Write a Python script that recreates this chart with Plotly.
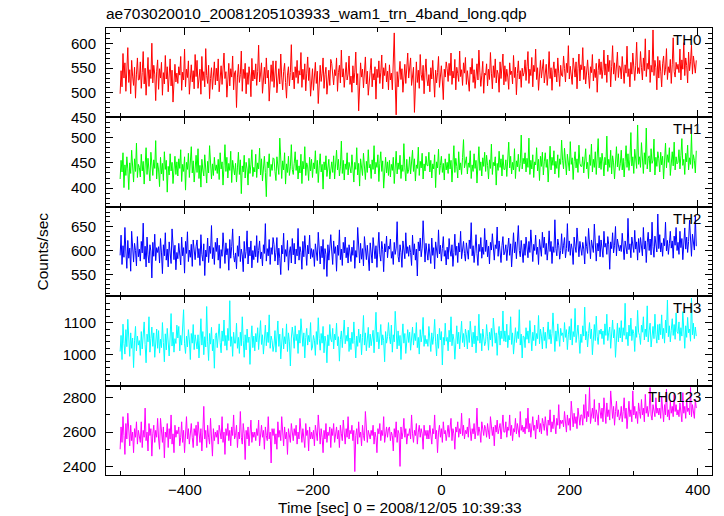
import numpy as np
import plotly.graph_objects as go
from plotly.subplots import make_subplots

TITLE = "ae703020010_20081205103933_wam1_trn_4band_long.qdp"
X_LABEL = "Time [sec] 0 = 2008/12/05 10:39:33"
Y_LABEL = "Counts/sec"
BANDS = ["TH0", "TH1", "TH2", "TH3", "TH0123"]
COLORS = ["#ff0000", "#00ff00", "#0000ff", "#00ffff", "#ff00ff"]

TIME_START = -501.0
TIME_STEP = 1.5

TH0 = [
    498, 545, 512, 580, 530, 561, 503, 540, 592, 521, 547, 498, 566, 534, 515, 552, 489, 538, 571, 526,
    527, 563, 509, 541, 584, 518, 550, 495, 536, 572, 513, 547, 529, 601, 520, 556, 538, 484, 544, 567,
    507, 549, 530, 562, 495, 541, 518, 576, 528, 553, 502, 537, 569, 514, 546, 481, 533, 558, 522, 540,
    519, 553, 536, 574, 505, 542, 526, 589, 512, 548, 531, 565, 497, 539, 557, 522, 545, 508, 578, 533,
    566, 509, 531, 548, 497, 574, 525, 543, 512, 590, 535, 519, 556, 488, 529, 551, 507, 539, 563, 516,
    550, 524, 569, 502, 538, 555, 517, 546, 581, 529, 543, 491, 537, 560, 514, 549, 532, 575, 506, 541,
    545, 470, 532, 558, 521, 537, 585, 503, 548, 529, 560, 498, 541, 517, 553, 534, 492, 570, 524, 546,
    528, 559, 515, 543, 597, 522, 538, 561, 499, 534, 552, 518, 571, 530, 546, 483, 539, 557, 523, 565,
    511, 538, 565, 500, 527, 549, 518, 579, 532, 506, 543, 560, 521, 489, 536, 553, 514, 541, 598, 526,
    542, 508, 553, 531, 566, 519, 545, 536, 582, 511, 548, 527, 559, 504, 540, 573, 525, 551, 493, 538,
    549, 505, 533, 562, 519, 544, 478, 531, 556, 523, 540, 571, 509, 537, 552, 497, 528, 546, 515, 568,
    560, 529, 516, 547, 535, 571, 503, 541, 556, 520, 587, 532, 549, 511, 543, 562, 526, 538, 575, 517,
    534, 501, 555, 520, 542, 583, 516, 539, 463, 527, 561, 532, 548, 510, 536, 573, 518, 544, 495, 531,
    545, 570, 512, 539, 526, 553, 487, 548, 531, 565, 519, 542, 577, 508, 551, 535, 560, 522, 544, 506,
    557, 526, 540, 506, 567, 622, 522, 455, 543, 512, 538, 564, 527, 549, 501, 533, 558, 519, 545, 581,
    530, 548, 571, 515, 539, 552, 460, 534, 563, 521, 546, 509, 578, 537, 525, 556, 498, 542, 569, 528,
    514, 537, 502, 551, 528, 566, 535, 491, 546, 520, 541, 574, 511, 539, 555, 524, 486, 548, 532, 563,
    549, 523, 560, 535, 581, 517, 544, 530, 568, 506, 552, 539, 523, 585, 533, 547, 515, 561, 540, 572,
    517, 545, 529, 503, 552, 538, 570, 521, 547, 509, 534, 559, 526, 587, 542, 513, 536, 564, 499, 540,
    536, 559, 514, 548, 527, 582, 540, 508, 555, 531, 569, 520, 546, 538, 501, 563, 529, 552, 579, 516,
    555, 523, 548, 532, 507, 561, 537, 544, 518, 576, 531, 552, 496, 539, 565, 528, 545, 511, 550, 534,
    541, 567, 525, 553, 584, 519, 548, 535, 572, 512, 556, 543, 589, 527, 551, 505, 538, 566, 530, 558,
    568, 520, 543, 558, 515, 538, 584, 529, 551, 505, 546, 563, 532, 549, 522, 571, 540, 513, 556, 535,
    533, 575, 549, 522, 560, 541, 596, 528, 554, 539, 517, 571, 545, 532, 563, 508, 550, 579, 524, 557,
    547, 592, 527, 554, 518, 542, 567, 536, 509, 553, 541, 578, 524, 548, 531, 560, 501, 545, 569, 537,
    563, 529, 548, 587, 536, 559, 521, 577, 543, 566, 512, 553, 596, 538, 561, 525, 549, 583, 531, 555,
    552, 528, 574, 543, 519, 557, 540, 595, 533, 549, 512, 562, 538, 581, 546, 525, 555, 603, 539, 551,
    539, 584, 552, 526, 571, 545, 610, 533, 560, 548, 587, 521, 556, 542, 628, 535, 566, 551, 506, 574,
    530, 566, 544, 512, 559, 575, 536, 548, 590, 527, 553, 541, 568, 519, 557, 612, 543, 532, 562, 548,
    558, 541, 589, 526, 567, 548, 602, 535, 571, 556, 520, 583, 545, 563, 597, 538, 575, 552, 540, 566,
]

TH1 = [
    418, 455, 432, 470, 401, 446, 425, 462, 438, 397, 450, 429, 475, 441, 412, 458, 433, 489, 421, 447,
    441, 422, 467, 434, 453, 408, 446, 480, 427, 459, 436, 414, 471, 443, 425, 456, 439, 494, 418, 450,
    436, 403, 461, 428, 449, 415, 472, 437, 455, 392, 443, 426, 468, 434, 451, 409, 440, 463, 427, 452,
    424, 458, 439, 476, 413, 447, 433, 462, 396, 451, 437, 469, 421, 445, 482, 430, 454, 412, 442, 465,
    431, 478, 419, 445, 402, 457, 436, 424, 466, 442, 410, 453, 430, 484, 439, 418, 448, 425, 461, 435,
    446, 429, 457, 417, 470, 438, 452, 406, 444, 486, 433, 461, 420, 449, 435, 473, 411, 455, 440, 426,
    449, 412, 440, 471, 427, 456, 389, 444, 432, 465, 420, 451, 438, 406, 459, 429, 446, 476, 423, 441,
    432, 467, 421, 450, 438, 479, 426, 458, 414, 445, 463, 431, 383, 452, 440, 468, 423, 447, 435, 460,
    458, 433, 415, 462, 440, 427, 499, 445, 419, 454, 436, 470, 408, 448, 431, 463, 425, 442, 486, 437,
    427, 449, 472, 435, 456, 418, 444, 430, 467, 409, 453, 438, 482, 425, 450, 442, 415, 461, 434, 457,
    421, 450, 438, 474, 429, 455, 411, 444, 468, 432, 447, 398, 452, 436, 464, 423, 441, 457, 418, 445,
    452, 431, 464, 418, 447, 475, 436, 457, 424, 442, 493, 429, 455, 416, 448, 437, 470, 426, 451, 439,
    430, 466, 443, 412, 451, 437, 480, 426, 449, 404, 458, 439, 425, 469, 444, 417, 453, 431, 476, 440,
    447, 419, 456, 437, 484, 428, 451, 441, 466, 413, 449, 472, 433, 454, 400, 445, 461, 430, 452, 425,
    455, 422, 447, 435, 461, 409, 442, 473, 428, 450, 437, 465, 419, 446, 433, 488, 440, 414, 457, 429,
    436, 462, 428, 450, 475, 433, 458, 414, 446, 439, 481, 425, 453, 440, 469, 418, 448, 434, 463, 445,
    444, 471, 432, 455, 420, 448, 438, 466, 401, 452, 440, 477, 427, 445, 463, 431, 449, 416, 458, 436,
    451, 429, 468, 438, 455, 412, 447, 484, 431, 459, 443, 420, 472, 436, 450, 427, 461, 496, 440, 454,
    462, 428, 450, 441, 474, 419, 446, 433, 468, 439, 455, 410, 447, 482, 435, 452, 424, 460, 443, 471,
    433, 465, 445, 418, 456, 439, 487, 427, 451, 444, 462, 406, 449, 435, 473, 441, 458, 424, 466, 437,
    437, 456, 423, 448, 491, 440, 463, 428, 451, 436, 478, 419, 454, 442, 467, 433, 449, 505, 438, 459,
    448, 470, 432, 459, 441, 499, 427, 455, 438, 466, 421, 452, 446, 480, 434, 457, 415, 463, 443, 471,
    426, 452, 470, 441, 457, 412, 449, 483, 436, 461, 445, 474, 428, 453, 439, 466, 421, 458, 447, 495,
    455, 438, 479, 445, 426, 467, 451, 434, 492, 447, 460, 417, 453, 472, 440, 458, 431, 485, 449, 443,
    443, 462, 430, 455, 478, 438, 451, 419, 466, 445, 487, 432, 457, 441, 472, 427, 453, 498, 440, 461,
    437, 469, 452, 424, 461, 446, 503, 433, 457, 441, 475, 428, 464, 450, 418, 456, 482, 442, 468, 435,
    448, 475, 436, 459, 422, 453, 484, 441, 468, 435, 456, 510, 444, 462, 429, 477, 450, 439, 525, 447,
    462, 441, 490, 453, 429, 470, 447, 519, 438, 459, 464, 432, 478, 449, 455, 497, 426, 461, 443, 472,
    458, 432, 471, 446, 463, 418, 454, 489, 440, 466, 451, 480, 425, 459, 472, 444, 491, 436, 462, 448,
    451, 476, 438, 464, 498, 445, 457, 427, 469, 452, 485, 436, 460, 447, 507, 439, 466, 455, 430, 474,
]

TH2 = [
    590, 632, 571, 610, 586, 648, 597, 563, 621, 584, 605, 557, 640, 593, 576, 615, 600, 568, 629, 587,
    603, 578, 619, 595, 657, 582, 609, 566, 628, 591, 574, 612, 599, 543, 617, 588, 634, 579, 606, 596,
    608, 574, 625, 595, 552, 612, 589, 637, 580, 603, 566, 618, 594, 573, 645, 599, 581, 611, 560, 596,
    583, 615, 597, 570, 628, 589, 606, 553, 619, 594, 639, 577, 601, 586, 613, 567, 622, 598, 581, 609,
    622, 585, 604, 569, 633, 592, 578, 614, 548, 601, 587, 626, 575, 609, 594, 652, 583, 606, 571, 617,
    598, 626, 580, 611, 563, 602, 588, 637, 595, 573, 616, 591, 604, 559, 623, 584, 608, 645, 590, 576,
    595, 562, 610, 588, 630, 577, 603, 591, 556, 619, 584, 598, 641, 572, 607, 589, 620, 564, 600, 581,
    610, 587, 631, 575, 600, 620, 583, 597, 568, 612, 594, 656, 578, 604, 589, 623, 571, 606, 592, 627,
    613, 578, 596, 627, 570, 605, 584, 550, 611, 593, 636, 576, 602, 588, 621, 559, 597, 608, 574, 625,
    591, 615, 572, 603, 589, 646, 580, 608, 596, 561, 619, 587, 631, 598, 569, 611, 593, 632, 583, 604,
    586, 602, 567, 614, 591, 579, 638, 598, 572, 609, 585, 623, 561, 604, 592, 546, 612, 580, 599, 633,
    599, 571, 620, 594, 608, 557, 611, 590, 643, 581, 603, 569, 617, 595, 628, 585, 606, 574, 612, 593,
    577, 607, 590, 621, 563, 600, 586, 648, 593, 574, 615, 582, 604, 568, 629, 595, 581, 611, 587, 558,
    616, 590, 574, 627, 600, 583, 610, 565, 605, 638, 592, 578, 619, 602, 556, 614, 597, 630, 585, 609,
    603, 624, 584, 598, 571, 617, 592, 605, 660, 588, 576, 612, 596, 565, 620, 601, 583, 637, 594, 608,
    588, 611, 596, 569, 632, 591, 614, 580, 603, 547, 618, 599, 626, 587, 605, 662, 592, 576, 615, 600,
    580, 614, 597, 573, 626, 590, 606, 562, 618, 599, 585, 643, 593, 611, 578, 604, 629, 588, 600, 570,
    607, 582, 625, 601, 588, 612, 567, 596, 634, 590, 609, 575, 616, 597, 640, 583, 602, 619, 594, 578,
    616, 595, 582, 622, 604, 658, 589, 610, 575, 601, 633, 594, 569, 613, 598, 627, 584, 607, 592, 646,
    598, 622, 587, 609, 572, 617, 601, 635, 593, 580, 612, 604, 649, 588, 620, 596, 575, 610, 629, 591,
    597, 612, 579, 605, 626, 590, 614, 566, 603, 637, 595, 618, 583, 609, 652, 600, 587, 621, 594, 575,
    614, 590, 628, 602, 585, 619, 596, 643, 609, 577, 613, 600, 632, 592, 607, 571, 623, 605, 588, 638,
    606, 628, 592, 615, 580, 603, 641, 598, 619, 573, 608, 596, 664, 604, 589, 624, 611, 582, 600, 635,
    593, 611, 627, 585, 604, 656, 598, 620, 590, 614, 603, 571, 628, 609, 596, 647, 612, 587, 619, 604,
    590, 617, 603, 572, 629, 608, 594, 646, 601, 583, 622, 610, 596, 655, 605, 578, 615, 599, 631, 587,
    622, 600, 586, 640, 607, 615, 592, 629, 612, 561, 618, 604, 637, 595, 611, 650, 589, 624, 606, 599,
    611, 598, 636, 604, 581, 620, 607, 593, 667, 602, 614, 585, 628, 609, 596, 642, 603, 618, 580, 625,
    596, 627, 612, 589, 648, 603, 620, 575, 616, 638, 600, 624, 591, 659, 608, 586, 630, 613, 597, 676,
    604, 633, 597, 616, 588, 625, 610, 659, 599, 621, 592, 614, 640, 605, 620, 584, 630, 611, 648, 600,
    617, 592, 640, 606, 625, 581, 613, 647, 603, 628, 596, 619, 663, 607, 588, 634, 615, 601, 672, 609,
]

TH3 = [
    1010, 1060, 985, 1095, 1035, 1002, 1078, 1025, 1110, 1040, 995, 1068, 1020, 1052, 960, 1045, 1088, 1012, 1058, 1030,
    1044, 998, 1072, 1018, 1056, 1102, 1032, 975, 1064, 1040, 1118, 1008, 1050, 1086, 1026, 1068, 992, 1046, 1080, 1020,
    1075, 1005, 1048, 1022, 1100, 1038, 978, 1065, 1015, 1082, 1042, 996, 1055, 1128, 1027, 1070, 1008, 1050, 1035, 1092,
    1052, 1088, 1012, 1060, 1030, 1070, 1140, 1034, 1004, 1058, 1024, 1078, 1046, 985, 1066, 1036, 1094, 1016, 1062, 1040,
    1018, 1062, 990, 1045, 1112, 1030, 1072, 1000, 1056, 1024, 1150, 1040, 982, 1066, 1033, 1085, 1012, 1048, 958, 1060,
    1068, 1022, 1054, 1096, 1038, 1006, 1074, 1042, 1108, 1028, 1060, 1014, 1082, 1044, 1168, 1026, 1056, 995, 1070, 1036,
    1036, 1098, 1020, 1054, 1004, 1070, 1028, 1118, 1044, 992, 1062, 1015, 1080, 1038, 1055, 970, 1046, 1090, 1022, 1058,
    1012, 1066, 1040, 1084, 1016, 1054, 1106, 1032, 1062, 1002, 1048, 1092, 1028, 1070, 1038, 1124, 1020, 1058, 1044, 1010,
    1030, 1075, 1008, 1050, 1105, 1026, 1064, 987, 1042, 1082, 1018, 1056, 1034, 1096, 1010, 1068, 1040, 965, 1052, 1086,
    1058, 1020, 1090, 1044, 1064, 1004, 1076, 1036, 1112, 1050, 1026, 1068, 990, 1054, 1082, 1030, 1060, 1040, 1100, 1014,
    1024, 1060, 1045, 998, 1072, 1032, 1115, 1050, 1014, 1066, 1036, 1088, 1006, 1058, 1040, 975, 1062, 1028, 1094, 1048,
    1040, 1082, 1018, 1064, 1046, 1098, 1028, 1056, 980, 1048, 1074, 1022, 1066, 1108, 1034, 1060, 1042, 1086, 1010, 1052,
    1016, 1070, 1035, 1102, 1044, 990, 1058, 1026, 1080, 1038, 1064, 1000, 1054, 1122, 1030, 1068, 1012, 1046, 1085, 1022,
    1064, 1028, 1048, 1076, 1006, 1058, 1132, 1040, 1070, 1018, 1052, 1094, 1030, 1062, 1044, 978, 1072, 1036, 1056, 1100,
    1056, 1034, 1092, 1008, 1062, 1040, 1135, 1048, 1018, 1074, 1028, 1060, 985, 1052, 1096, 1036, 1066, 1004, 1050, 1078,
    1038, 1070, 1014, 1058, 1086, 1030, 1066, 1044, 1100, 1022, 1054, 1002, 1078, 1040, 1062, 1116, 1026, 1060, 1034, 1048,
    1026, 1088, 1044, 1010, 1068, 1032, 1058, 1110, 1040, 996, 1064, 1020, 1082, 1046, 1072, 968, 1054, 1030, 1098, 1042,
    1054, 1012, 1076, 1040, 1118, 1028, 1064, 1046, 986, 1058, 1090, 1034, 1070, 1018, 1050, 1104, 1038, 1066, 1024, 1080,
    1062, 1018, 1076, 1038, 1104, 1050, 1024, 1070, 1034, 1090, 1006, 1058, 1044, 1126, 1036, 1066, 1012, 1080, 1048, 1028,
    1040, 1094, 1056, 1014, 1070, 1046, 1082, 1026, 1114, 1052, 1036, 1068, 998, 1060, 1088, 1030, 1074, 1050, 1136, 1042,
    1074, 1040, 1095, 1022, 1060, 1046, 1118, 1032, 1068, 1002, 1056, 1084, 1038, 1072, 1050, 1140, 1030, 1064, 990, 1058,
    1056, 1022, 1084, 1048, 1074, 1036, 1106, 1060, 1012, 1070, 1044, 1092, 1028, 1066, 1050, 1122, 1034, 1080, 1058, 1018,
    1086, 1044, 1070, 1020, 1062, 1102, 1048, 1078, 1034, 1066, 1130, 1052, 1010, 1074, 1042, 1096, 1056, 1026, 1082, 1060,
    1068, 1040, 1100, 1054, 1078, 1016, 1062, 1088, 1046, 1112, 1030, 1072, 1056, 1144, 1038, 1070, 1092, 1048, 1004, 1064,
    1038, 1090, 1058, 1148, 1046, 1072, 1024, 1066, 1100, 1050, 1080, 1000, 1062, 1094, 1044, 1120, 1056, 1032, 1076, 1064,
    1080, 1050, 1074, 1032, 1096, 1060, 1126, 1044, 1070, 1086, 1020, 1064, 1108, 1052, 1078, 992, 1066, 1098, 1040, 1084,
    1052, 1106, 1040, 1084, 1060, 1160, 1048, 1070, 1028, 1092, 1058, 1114, 1044, 1078, 1066, 1010, 1088, 1054, 1138, 1070,
    1060, 1032, 1092, 1070, 1118, 1046, 1080, 1056, 1152, 1040, 1074, 1098, 1024, 1066, 1088, 1050, 1126, 1062, 1036, 1094,
    1046, 1096, 1062, 1124, 1050, 1082, 1036, 1108, 1068, 1170, 1056, 1090, 1040, 1076, 1112, 1060, 1094, 1048, 1130, 1072,
    1066, 1102, 1044, 1084, 1058, 1134, 1072, 1020, 1090, 1054, 1116, 1068, 1080, 1042, 1176, 1062, 1098, 1050, 1086, 1058,
]

TH0123 = [
    2500, 2630, 2540, 2690, 2580, 2470, 2650, 2560, 2710, 2590, 2520, 2640, 2550, 2600, 2480, 2620, 2570, 2660, 2530, 2610,
    2580, 2540, 2660, 2510, 2610, 2570, 2740, 2550, 2600, 2490, 2650, 2580, 2620, 2460, 2590, 2640, 2540, 2610, 2570, 2680,
    2560, 2500, 2680, 2590, 2540, 2630, 2450, 2600, 2570, 2650, 2510, 2620, 2560, 2700, 2530, 2590, 2480, 2640, 2570, 2610,
    2590, 2630, 2520, 2570, 2660, 2540, 2610, 2480, 2600, 2690, 2560, 2620, 2530, 2590, 2650, 2570, 2510, 2620, 2580, 2640,
    2520, 2660, 2580, 2540, 2620, 2490, 2600, 2750, 2560, 2610, 2510, 2640, 2570, 2530, 2680, 2590, 2460, 2620, 2550, 2600,
    2570, 2610, 2530, 2640, 2590, 2560, 2690, 2540, 2600, 2470, 2620, 2580, 2650, 2550, 2610, 2520, 2630, 2580, 2700, 2560,
    2580, 2640, 2510, 2600, 2560, 2720, 2570, 2530, 2650, 2590, 2440, 2610, 2560, 2630, 2520, 2590, 2670, 2540, 2600, 2570,
    2600, 2550, 2620, 2580, 2670, 2520, 2600, 2640, 2570, 2610, 2500, 2630, 2580, 2550, 2690, 2560, 2600, 2420, 2620, 2580,
    2620, 2530, 2590, 2500, 2660, 2570, 2610, 2550, 2690, 2580, 2520, 2630, 2560, 2600, 2470, 2620, 2580, 2540, 2650, 2590,
    2550, 2620, 2580, 2640, 2530, 2600, 2560, 2680, 2590, 2540, 2620, 2570, 2510, 2650, 2580, 2610, 2490, 2630, 2560, 2600,
    2560, 2610, 2520, 2640, 2580, 2550, 2700, 2590, 2530, 2620, 2570, 2480, 2610, 2560, 2650, 2540, 2600, 2580, 2630, 2510,
    2620, 2580, 2650, 2540, 2600, 2630, 2560, 2610, 2510, 2640, 2590, 2550, 2670, 2580, 2530, 2620, 2570, 2690, 2560, 2610,
    2590, 2640, 2550, 2610, 2370, 2580, 2620, 2530, 2660, 2570, 2600, 2520, 2640, 2580, 2550, 2720, 2590, 2540, 2610, 2570,
    2560, 2610, 2580, 2640, 2530, 2600, 2570, 2480, 2620, 2590, 2650, 2550, 2610, 2580, 2690, 2540, 2600, 2630, 2570, 2620,
    2630, 2550, 2600, 2580, 2490, 2620, 2570, 2660, 2540, 2610, 2590, 2400, 2630, 2560, 2600, 2680, 2570, 2620, 2530, 2590,
    2580, 2620, 2560, 2700, 2590, 2540, 2610, 2580, 2650, 2530, 2600, 2640, 2570, 2620, 2590, 2500, 2640, 2580, 2610, 2560,
    2610, 2560, 2640, 2580, 2530, 2620, 2590, 2700, 2560, 2610, 2480, 2600, 2640, 2570, 2620, 2540, 2660, 2590, 2610, 2550,
    2590, 2640, 2570, 2610, 2680, 2550, 2620, 2590, 2500, 2630, 2600, 2660, 2570, 2620, 2590, 2710, 2580, 2640, 2560, 2610,
    2590, 2630, 2570, 2680, 2600, 2550, 2620, 2590, 2650, 2560, 2610, 2740, 2580, 2630, 2600, 2540, 2660, 2610, 2580, 2640,
    2620, 2570, 2650, 2600, 2560, 2690, 2610, 2580, 2630, 2520, 2640, 2600, 2670, 2590, 2620, 2650, 2560, 2630, 2700, 2600,
    2600, 2660, 2570, 2630, 2610, 2700, 2580, 2640, 2550, 2620, 2600, 2680, 2590, 2650, 2620, 2570, 2720, 2610, 2640, 2600,
    2630, 2590, 2680, 2620, 2740, 2600, 2650, 2570, 2630, 2690, 2610, 2640, 2560, 2670, 2620, 2700, 2600, 2650, 2590, 2680,
    2650, 2610, 2690, 2630, 2580, 2670, 2640, 2730, 2600, 2660, 2620, 2700, 2650, 2590, 2680, 2640, 2760, 2620, 2670, 2650,
    2670, 2630, 2720, 2650, 2600, 2700, 2640, 2680, 2610, 2780, 2660, 2630, 2710, 2650, 2690, 2620, 2740, 2670, 2640, 2700,
    2700, 2640, 2760, 2680, 2820, 2660, 2720, 2690, 2860, 2650, 2710, 2740, 2680, 2790, 2660, 2730, 2700, 2640, 2770, 2710,
    2680, 2740, 2660, 2800, 2700, 2650, 2770, 2690, 2730, 2670, 2840, 2710, 2680, 2750, 2640, 2720, 2780, 2690, 2730, 2670,
    2690, 2750, 2660, 2720, 2800, 2680, 2740, 2620, 2710, 2780, 2690, 2730, 2660, 2840, 2700, 2750, 2680, 2720, 2650, 2770,
    2720, 2680, 2790, 2700, 2740, 2660, 2820, 2710, 2750, 2690, 2730, 2860, 2700, 2670, 2760, 2720, 2690, 2800, 2710, 2740,
    2700, 2740, 2680, 2810, 2720, 2660, 2760, 2700, 2850, 2690, 2730, 2670, 2780, 2710, 2750, 2690, 2820, 2720, 2760, 2700,
    2730, 2690, 2770, 2720, 2660, 2830, 2710, 2750, 2680, 2790, 2720, 2740, 2700, 2860, 2690, 2760, 2720, 2680, 2790, 2740,
]

SERIES = [TH0, TH1, TH2, TH3, TH0123]
Y_RANGES = [[449.8, 632], [363, 540], [505, 691], [904, 1182], [2350, 2871]]
Y_DTICK = [50, 50, 50, 100, 200]
Y_MINOR = [10, 10, 10, 20, 100]
X_RANGE = [-523, 422]

FONT = "Liberation Sans, Arial, Helvetica, sans-serif"

fig = make_subplots(rows=5, cols=1, shared_xaxes=True, vertical_spacing=0)

for k, (name, vals, col) in enumerate(zip(BANDS, SERIES, COLORS)):
    t = TIME_START + TIME_STEP * np.arange(len(vals))
    fig.add_trace(
        go.Scatter(x=t, y=vals, mode="lines", line=dict(color=col, width=1),
                   name=name, showlegend=False),
        row=k + 1, col=1,
    )
    fig.update_yaxes(
        range=Y_RANGES[k], dtick=Y_DTICK[k], tick0=0,
        ticks="inside", ticklen=7, tickcolor="black", tickwidth=1,
        minor=dict(dtick=Y_MINOR[k], ticks="inside", ticklen=4, tickcolor="black", showgrid=False),
        showline=True, linecolor="black", linewidth=1, mirror="allticks",
        showgrid=False, zeroline=False,
        tickfont=dict(family=FONT, size=15, color="black"),
        ticklabelstandoff=6,
        row=k + 1, col=1,
    )
    fig.update_xaxes(
        range=X_RANGE, dtick=200, tick0=0,
        ticks="inside", ticklen=7, tickcolor="black", tickwidth=1,
        minor=dict(dtick=100, ticks="inside", ticklen=4, tickcolor="black", showgrid=False),
        showline=True, linecolor="black", linewidth=1, mirror="allticks",
        showgrid=False, zeroline=False,
        showticklabels=(k == 4),
        tickfont=dict(family=FONT, size=15, color="black"),
        ticklabelstandoff=1,
        row=k + 1, col=1,
    )
    fig.add_annotation(
        text=name, xref="x domain", yref="y domain" if k == 0 else f"y{k+1} domain",
        x=0.985, y=0.99, xanchor="right", yanchor="top", showarrow=False,
        font=dict(family=FONT, size=15, color="black"),
    )

fig.add_annotation(
    text=TITLE, xref="paper", yref="paper", x=-0.003, y=1.0, yshift=4,
    xanchor="left", yanchor="bottom", showarrow=False,
    font=dict(family=FONT, size=15.5, color="black"),
)
fig.add_annotation(
    text=X_LABEL, xref="paper", yref="paper", x=0.28, y=0, yshift=-32,
    xanchor="left", yanchor="middle", showarrow=False,
    font=dict(family=FONT, size=15.5, color="black"),
)
fig.add_annotation(
    text=Y_LABEL, xref="paper", yref="paper", x=0, xshift=-64, y=0.5,
    xanchor="center", yanchor="middle", textangle=-90, showarrow=False,
    font=dict(family=FONT, size=15.5, color="black"),
)

fig.update_layout(
    width=724, height=516,
    margin=dict(l=106, r=12, t=28, b=41),
    paper_bgcolor="white", plot_bgcolor="white",
)

fig.write_html("out.html", config={"displayModeBar": False},
               post_script="document.body.style.margin='0px';")
